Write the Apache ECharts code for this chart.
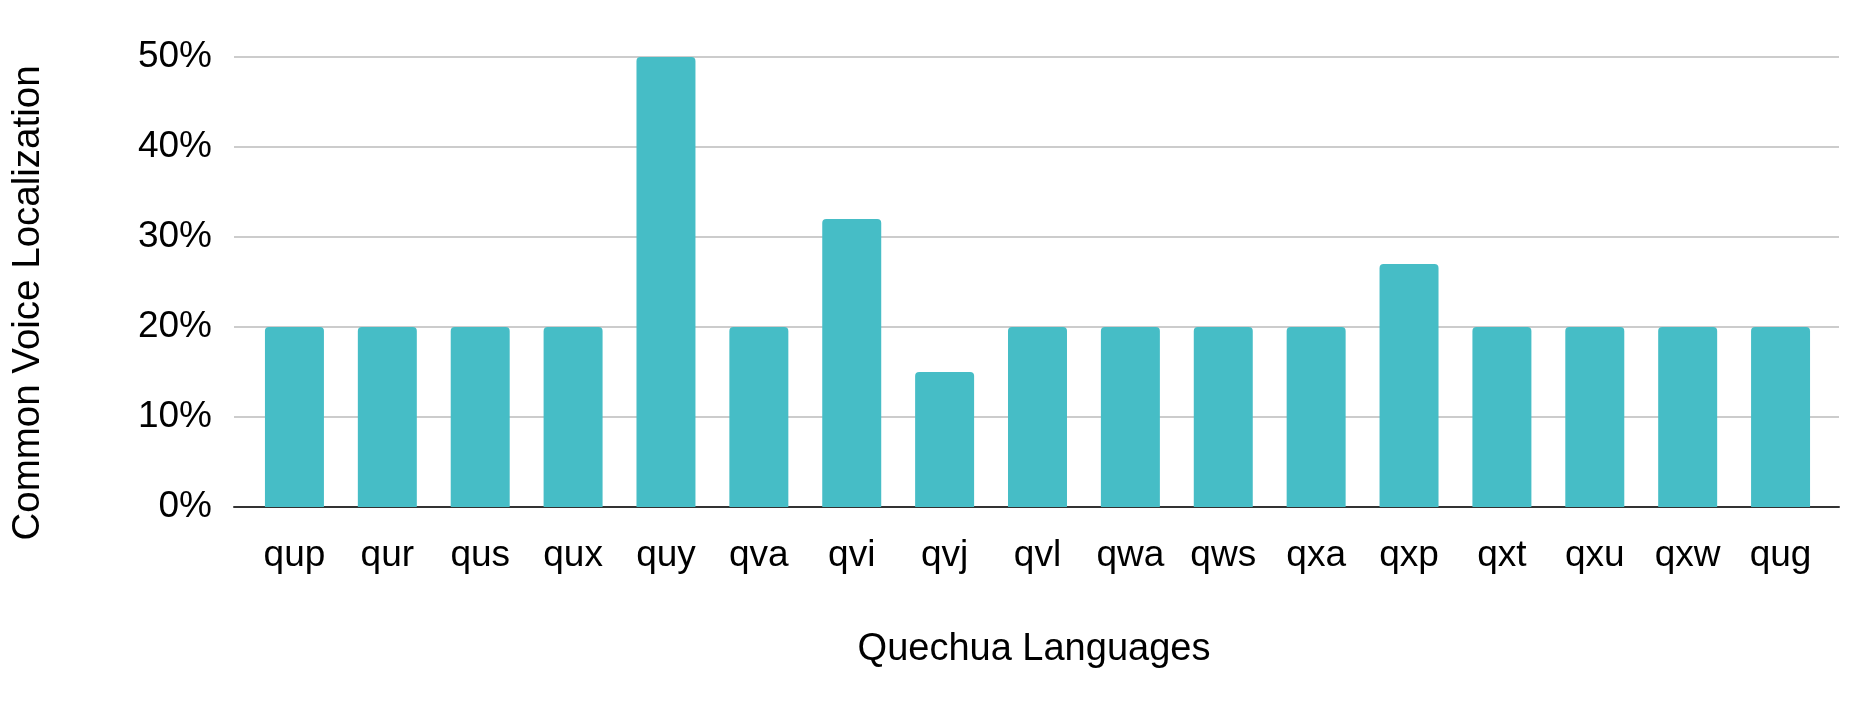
<!DOCTYPE html>
<html>
<head>
<meta charset="utf-8">
<script src="https://cdn.jsdelivr.net/npm/echarts@6/dist/echarts.min.js"></script>
<style>
html,body{margin:0;padding:0;background:#fff;}
#chart{width:1875px;height:706px;}
</style>
</head>
<body>
<div id="chart"></div>
<script>
const categories = ['qup','qur','qus','qux','quy','qva','qvi','qvj','qvl','qwa','qws','qxa','qxp','qxt','qxu','qxw','qug'];
const localization = [20,20,20,20,50,20,32,15,20,20,20,20,27,20,20,20,20];
const yTicks = { min: 0, max: 50, interval: 10 };
const xTitle = 'Quechua Languages';
const yTitle = 'Common Voice Localization';

const font = 'Liberation Sans, Arial, sans-serif';
const chart = echarts.init(document.getElementById('chart'), null, {renderer:'canvas'});
chart.setOption({
  backgroundColor: '#ffffff',
  animation: false,
  grid: [
    {left: 234, right: 36, top: 57, bottom: 199},
    {left: 248, right: 48, top: 57, bottom: 199}
  ],
  xAxis: [
    {gridIndex: 0, type: 'value', min: 0, max: 1,
     axisLine: {show: true, onZero: false, lineStyle: {color: '#333333', width: 2}},
     axisTick: {show: false}, axisLabel: {show: false}, splitLine: {show: false}},
    {gridIndex: 1, type: 'category', data: categories, boundaryGap: true,
     axisLine: {show: false}, axisTick: {show: false},
     axisLabel: {margin: 30, fontSize: 37, color: '#000000', fontFamily: font, interval: 0}}
  ],
  yAxis: [
    {gridIndex: 0, type: 'value', min: yTicks.min, max: yTicks.max, interval: yTicks.interval,
     axisLine: {show: false}, axisTick: {show: false},
     axisLabel: {formatter: v => v + '%', fontSize: 37, color: '#000000', fontFamily: font, margin: 22,
                 padding: [4, 0, 0, 0]},
     splitLine: {show: true, lineStyle: {color: '#cccccc', width: 2}}},
    {gridIndex: 1, type: 'value', min: yTicks.min, max: yTicks.max, interval: yTicks.interval, show: false,
     splitLine: {show: false}}
  ],
  series: [{
    type: 'bar', xAxisIndex: 1, yAxisIndex: 1, data: localization,
    barCategoryGap: '36.5%',
    itemStyle: {color: '#46bdc6', borderRadius: [4,4,0,0]},
    z: 3
  }],
  graphic: [
    {type: 'text', x: 1034, y: 650,
     style: {text: xTitle, font: '38px ' + font, fill: '#000000', align: 'center', verticalAlign: 'middle'}},
    {type: 'text', x: 28, y: 303, rotation: Math.PI/2,
     style: {text: yTitle, font: '38.5px ' + font, fill: '#000000', align: 'center', verticalAlign: 'middle'}}
  ]
});
</script>
</body>
</html>
